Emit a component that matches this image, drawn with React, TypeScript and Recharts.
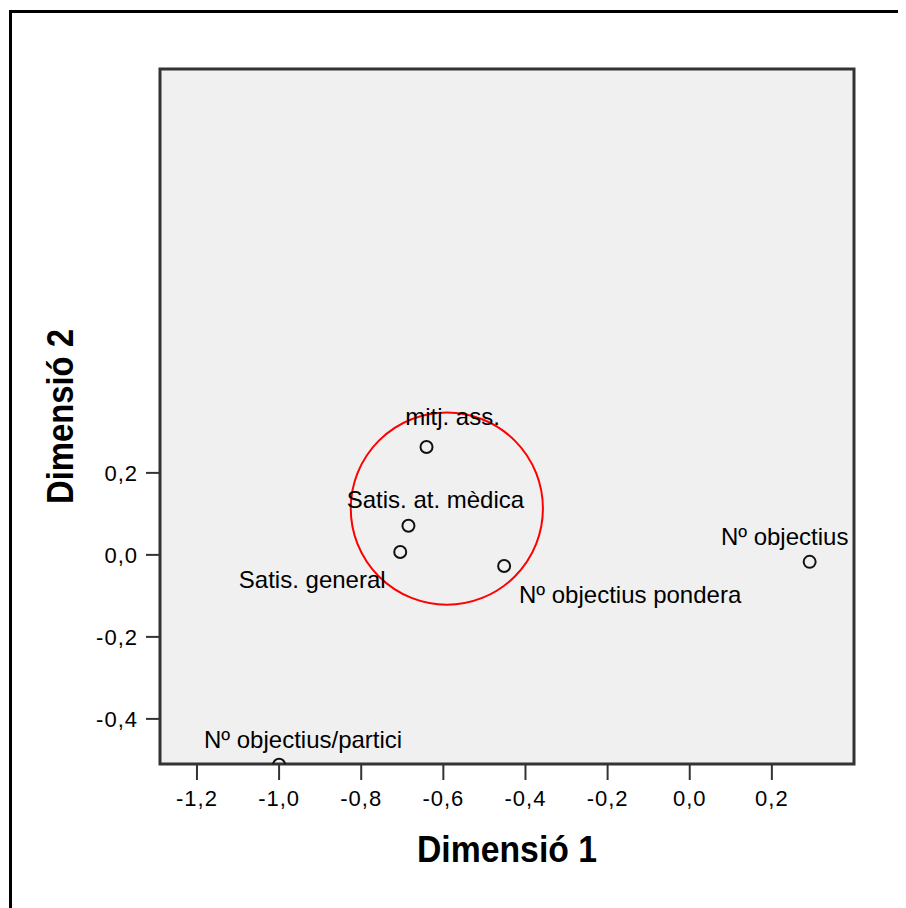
import React from "react";
import {
  ScatterChart,
  Scatter,
  XAxis,
  YAxis,
  CartesianGrid,
  ReferenceArea,
  ReferenceDot,
  Label,
} from "recharts";

// Object points (dimension 1, dimension 2)
const names = [
  "mitj. ass.",
  "Satis. at. mèdica",
  "Satis. general",
  "Nº objectius pondera",
  "Nº objectius",
  "Nº objectius/partici",
];
const dim1 = [-0.641, -0.685, -0.705, -0.452, 0.292, -1.0];
const dim2 = [0.263, 0.071, 0.007, -0.027, -0.017, -0.512];

const xTicks = [-1.2, -1.0, -0.8, -0.6, -0.4, -0.2, 0.0, 0.2];
const yTicks = [-0.4, -0.2, 0.0, 0.2];
const xDomain: [number, number] = [-1.29, 0.4];
const yDomain: [number, number] = [-0.51, 1.185];

// highlighted group (red circle)
const circleCenter = { x: -0.5915, y: 0.113 };
const circleRadius = 0.234;

// label placement relative to each point (px): dx, dy to text baseline centre
const labelOffsets: Record<string, [number, number]> = {
  "mitj. ass.": [26, -22],
  "Satis. at. mèdica": [27, -18],
  "Satis. general": [-88, 36],
  "Nº objectius pondera": [126, 37],
  "Nº objectius": [-25, -17],
  "Nº objectius/partici": [24, -17],
};

const data = names.map((name, i) => ({ name, x: dim1[i], y: dim2[i] }));

const W = 898;
const H = 900;
const plotW = 694;
const FONT = "'Liberation Sans', Arial, sans-serif";

const fmt = (v: number) => v.toFixed(1).replace(".", ",");

function PointShape(props: any) {
  const { cx, cy, payload } = props;
  const [dx, dy] = labelOffsets[payload.name] || [0, -14];
  return (
    <g>
      <circle cx={cx} cy={cy} r={6} fill="none" stroke="#111" strokeWidth={2} />
      <text
        x={cx + dx}
        y={cy + dy}
        textAnchor="middle"
        fontSize={24}
        fontFamily={FONT}
        fill="#000"
      >
        {payload.name}
      </text>
    </g>
  );
}

function XTitle(props: any) {
  const { x, y, width } = props.viewBox;
  return (
    <text
      x={x + width / 2}
      y={y + 98}
      textAnchor="middle"
      fontSize={36}
      fontWeight="bold"
      fontFamily={FONT}
      textLength={180}
      lengthAdjust="spacingAndGlyphs"
      fill="#000"
    >
      Dimensió 1
    </text>
  );
}

function YTitle(props: any) {
  const { x, y, width, height } = props.viewBox;
  const tx = x + width - 87;
  const ty = y + height / 2;
  return (
    <text
      x={tx}
      y={ty}
      transform={`rotate(-90, ${tx}, ${ty})`}
      textAnchor="middle"
      fontSize={36}
      fontWeight="bold"
      fontFamily={FONT}
      textLength={175}
      lengthAdjust="spacingAndGlyphs"
      fill="#000"
    >
      Dimensió 2
    </text>
  );
}

export default function App() {
  const rPx = (circleRadius * plotW) / (xDomain[1] - xDomain[0]);
  const tickStyle = { fontSize: 22, fill: "#000", fontFamily: FONT, letterSpacing: 1 };
  return (
    <div style={{ position: "relative", width: W, height: H, overflow: "hidden", background: "#fff" }}>
      <div
        style={{
          position: "absolute",
          left: 1,
          top: 2,
          width: 1000,
          height: 1000,
          border: "3px solid #000",
        }}
      />
      <div style={{ position: "absolute", left: 0, top: 0 }}>
        <ScatterChart
          width={W}
          height={H}
          margin={{ top: 61, right: 52, bottom: 44, left: 0 }}
        >
          <CartesianGrid fill="#f0f0f0" horizontal={false} vertical={false} />
          <XAxis
            type="number"
            dataKey="x"
            domain={xDomain}
            ticks={xTicks}
            allowDataOverflow
            height={100}
            tickFormatter={fmt}
            tick={tickStyle}
            tickSize={16}
            tickMargin={10}
            tickLine={{ stroke: "#333", strokeWidth: 2 }}
            axisLine={false}
          >
            <Label content={XTitle} />
          </XAxis>
          <YAxis
            type="number"
            dataKey="y"
            domain={yDomain}
            ticks={yTicks}
            allowDataOverflow
            width={152}
            tickFormatter={fmt}
            tick={tickStyle}
            tickSize={14}
            tickMargin={8}
            tickLine={{ stroke: "#333", strokeWidth: 2 }}
            axisLine={false}
          >
            <Label content={YTitle} />
          </YAxis>
          <ReferenceDot
            x={circleCenter.x}
            y={circleCenter.y}
            r={rPx}
            fill="none"
            stroke="#ff0000"
            strokeWidth={2}
          />
          <Scatter data={data} shape={PointShape} isAnimationActive={false} />
          <ReferenceArea
            x1={xDomain[0]}
            x2={xDomain[1]}
            y1={yDomain[0]}
            y2={yDomain[1]}
            fill="none"
            stroke="#333"
            strokeWidth={3}
            fillOpacity={0}
          />
        </ScatterChart>
      </div>
    </div>
  );
}
